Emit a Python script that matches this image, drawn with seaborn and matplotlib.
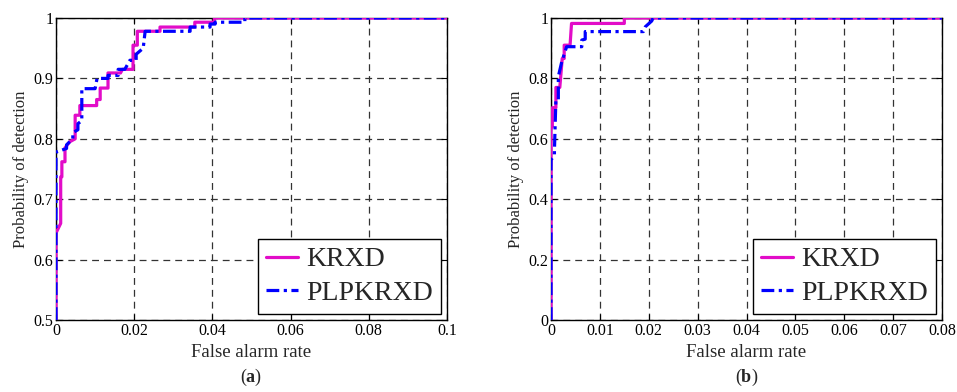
import numpy as np
import pandas as pd
import matplotlib
matplotlib.use("Agg")
import matplotlib.pyplot as plt
import seaborn as sns

# ---------------- data (ROC vertices) ----------------
# Panel (a)
a_krxd_fpr = [0, 0, 0.0012, 0.0012, 0.0015, 0.0015, 0.0023, 0.0023, 0.0035, 0.0049,
              0.0049, 0.0061, 0.0061, 0.0104, 0.0104, 0.0113, 0.0113, 0.0133, 0.0133,
              0.0165, 0.0170, 0.0197, 0.0197, 0.0208, 0.0208, 0.0266, 0.0266, 0.0355,
              0.0355, 0.0405, 0.0405, 0.1]
a_krxd_pd = [0.5, 0.644, 0.66, 0.737, 0.737, 0.762, 0.762, 0.785, 0.795, 0.80,
             0.839, 0.839, 0.855, 0.855, 0.865, 0.865, 0.884, 0.884, 0.909,
             0.909, 0.915, 0.915, 0.955, 0.955, 0.978, 0.978, 0.985, 0.985,
             0.993, 0.993, 1.0, 1.0]
a_plp_fpr = [0, 0, 0.0027, 0.0027, 0.0043, 0.0043, 0.0056, 0.0056, 0.0066, 0.0066,
             0.0100, 0.0105, 0.0133, 0.0133, 0.0159, 0.0159, 0.0176, 0.0189, 0.0205,
             0.0205, 0.0223, 0.0228, 0.0343, 0.0343, 0.0394, 0.0394, 0.0407, 0.0407,
             0.0483, 0.0483, 0.1]
a_plp_pd = [0.5, 0.778, 0.784, 0.79, 0.80, 0.81, 0.815, 0.825, 0.83, 0.883,
            0.883, 0.90, 0.90, 0.905, 0.905, 0.915, 0.915, 0.93, 0.93,
            0.94, 0.95, 0.978, 0.978, 0.985, 0.985, 0.99, 0.99, 0.993,
            0.993, 1.0, 1.0]

# Panel (b)
b_krxd_fpr = [0, 0, 0.00027, 0.00027, 0.0010, 0.0010, 0.0018, 0.0023, 0.0027, 0.0027,
              0.0039, 0.0042, 0.0150, 0.0150, 0.08]
b_krxd_pd = [0.0, 0.64, 0.64, 0.703, 0.703, 0.77, 0.77, 0.866, 0.866, 0.91,
             0.91, 0.982, 0.982, 1.0, 1.0]
b_plp_fpr = [0, 0, 0.0007, 0.0007, 0.0010, 0.0015, 0.0015, 0.0022, 0.0027, 0.0032,
             0.0063, 0.0063, 0.0070, 0.0070, 0.0189, 0.0193, 0.0206, 0.0209, 0.08]
b_plp_pd = [0.0, 0.53, 0.546, 0.56, 0.73, 0.73, 0.806, 0.855, 0.88, 0.905,
            0.905, 0.927, 0.93, 0.955, 0.955, 0.971, 0.99, 1.0, 1.0]

series_names = ["KRXD", "PLPKRXD"]
x_label = "False alarm rate"
y_label = "Probability of detection"
panel_labels = ["a", "b"]

a_xticks = [0, 0.02, 0.04, 0.06, 0.08, 0.1]
a_xticklabels = ["0", "0.02", "0.04", "0.06", "0.08", "0.1"]
a_yticks = [0.5, 0.6, 0.7, 0.8, 0.9, 1.0]
a_yticklabels = ["0.5", "0.6", "0.7", "0.8", "0.9", "1"]
b_xticks = [0, 0.01, 0.02, 0.03, 0.04, 0.05, 0.06, 0.07, 0.08]
b_xticklabels = ["0", "0.01", "0.02", "0.03", "0.04", "0.05", "0.06", "0.07", "0.08"]
b_yticks = [0, 0.2, 0.4, 0.6, 0.8, 1.0]
b_yticklabels = ["0", "0.2", "0.4", "0.6", "0.8", "1"]

# ---------------- style ----------------
sns.set_style("ticks")
plt.rcParams["font.family"] = ["Liberation Serif", "DejaVu Serif"]
plt.rcParams["mathtext.fontset"] = "custom"
plt.rcParams["mathtext.rm"] = "Liberation Serif"
plt.rcParams["mathtext.bf"] = "Liberation Serif:bold"

MAGENTA = "#E20CC8"
BLUE = "#0000FF"

fig = plt.figure(figsize=(9.57, 3.92), dpi=100)
ax_a = fig.add_axes([56 / 957, 72 / 392, 391 / 957, 302 / 392])
ax_b = fig.add_axes([551 / 957, 72 / 392, 391 / 957, 302 / 392])


def draw(ax, kf, kp, pf, pp, xlim, ylim, xt, xtl, yt, ytl):
    dk = pd.DataFrame({"fpr": kf, "pd": kp})
    dp = pd.DataFrame({"fpr": pf, "pd": pp})
    sns.lineplot(data=dk, x="fpr", y="pd", sort=False, estimator=None, ax=ax,
                 color=MAGENTA, lw=2.3, label=series_names[0], zorder=3)
    sns.lineplot(data=dp, x="fpr", y="pd", sort=False, estimator=None, ax=ax,
                 color=BLUE, lw=2.3, label=series_names[1], zorder=4,
                 linestyle=(0, (4, 1.4, 1, 1.4)))
    ax.set_xlim(*xlim)
    ax.set_ylim(*ylim)
    ax.set_xticks(xt)
    ax.set_xticklabels(xtl)
    ax.set_yticks(yt)
    ax.set_yticklabels(ytl)
    ax.grid(True, color="#333333", linestyle=(0, (5.5, 4)), linewidth=0.9)
    ax.tick_params(direction="in", length=4, width=0.8, top=True, right=True,
                   labelsize=11.5, pad=2, colors="black")
    for s in ax.spines.values():
        s.set_visible(True)
        s.set_color("black")
        s.set_linewidth(1.0)
    ax.set_xlabel(x_label, fontsize=13.5, labelpad=4)
    ax.set_ylabel(y_label, fontsize=12, labelpad=3)
    leg = ax.legend(loc="lower right", fontsize=20, frameon=True, fancybox=False,
                    edgecolor="black", framealpha=1, borderaxespad=0.2,
                    handlelength=1.15, handletextpad=0.3, borderpad=0.3,
                    labelspacing=0.3)
    leg.get_frame().set_linewidth(1.0)


draw(ax_a, a_krxd_fpr, a_krxd_pd, a_plp_fpr, a_plp_pd, (0, 0.1), (0.5, 1.0),
     a_xticks, a_xticklabels, a_yticks, a_yticklabels)
draw(ax_b, b_krxd_fpr, b_krxd_pd, b_plp_fpr, b_plp_pd, (0, 0.08), (0, 1.0),
     b_xticks, b_xticklabels, b_yticks, b_yticklabels)

for ax, lab in zip([ax_a, ax_b], panel_labels):
    ax.text(0.5, -(377 - 320) / 302, "($\\mathbf{%s}$)" % lab, transform=ax.transAxes,
            ha="center", va="center", fontsize=13)

fig.savefig("out.png", dpi=100)
